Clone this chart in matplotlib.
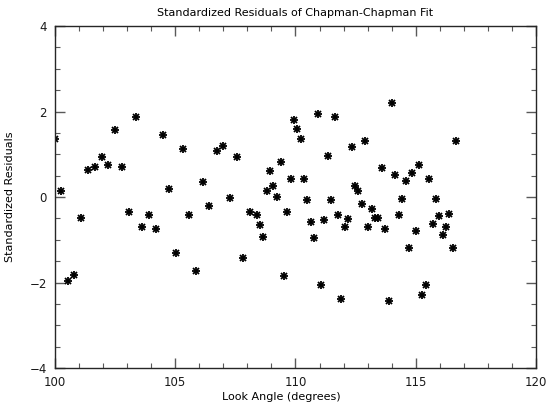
import numpy as np
import matplotlib
matplotlib.use("Agg")
import matplotlib.pyplot as plt
from matplotlib.ticker import MultipleLocator

# look angle (degrees) and standardized residuals
look_angle = [
    100.00, 100.25, 100.53, 100.80, 101.08, 101.39, 101.66, 101.94, 102.22, 102.49,
    102.77, 103.06, 103.35, 103.63, 103.91, 104.19, 104.48, 104.75, 105.02, 105.31,
    105.59, 105.86, 106.15, 106.42, 106.72, 106.97, 107.28, 107.55, 107.83, 108.11,
    108.39, 108.52, 108.66, 108.80, 108.94, 109.08, 109.22, 109.38, 109.52, 109.66,
    109.80, 109.94, 110.08, 110.22, 110.35, 110.49, 110.65, 110.78, 110.92, 111.06,
    111.20, 111.34, 111.48, 111.63, 111.76, 111.90, 112.05, 112.20, 112.34, 112.46,
    112.60, 112.75, 112.89, 113.03, 113.17, 113.31, 113.45, 113.60, 113.73, 113.87,
    114.01, 114.15, 114.30, 114.44, 114.58, 114.72, 114.86, 115.01, 115.15, 115.27,
    115.43, 115.56, 115.71, 115.84, 115.98, 116.12, 116.26, 116.40, 116.55, 116.69,
]
residuals = [
    1.36, 0.14, -1.97, -1.83, -0.48, 0.63, 0.71, 0.94, 0.76, 1.57,
    0.71, -0.36, 1.86, -0.69, -0.42, -0.75, 1.45, 0.18, -1.32, 1.12,
    -0.41, -1.72, 0.34, -0.21, 1.08, 1.19, -0.02, 0.93, -1.43, -0.34,
    -0.41, -0.66, -0.93, 0.15, 0.62, 0.26, 0.01, 0.81, -1.85, -0.36,
    0.43, 1.79, 1.59, 1.36, 0.43, -0.08, -0.59, -0.95, 1.94, -2.06,
    -0.53, 0.96, -0.08, 1.86, -0.41, -2.38, -0.69, -0.51, 1.16, 0.26,
    0.14, -0.17, 1.31, -0.69, -0.29, -0.48, -0.48, 0.69, -0.75, -2.43,
    2.20, 0.51, -0.43, -0.05, 0.37, -1.19, 0.57, -0.80, 0.76, -2.29,
    -2.06, 0.43, -0.64, -0.05, -0.44, -0.90, -0.70, -0.39, -1.19, 1.30,
]

title = "Standardized Residuals of Chapman-Chapman Fit"
xlabel = "Look Angle (degrees)"
ylabel = "Standardized Residuals"

plt.rcParams['font.family'] = ['DejaVu Sans']
plt.rcParams['font.size'] = 8.5

fig = plt.figure(figsize=(5.5, 4.11), dpi=100)
ax = fig.add_axes([0.1, 0.1046, 0.8745, 0.8321])

# IDL-style asterisk: plus overlaid with a cross
ax.plot(look_angle, residuals, linestyle='none', marker='+', markersize=6,
        markeredgewidth=1.3, color='black')
ax.plot(look_angle, residuals, linestyle='none', marker='x', markersize=4.5,
        markeredgewidth=1.3, color='black')

ax.set_xlim(100, 120)
ax.set_ylim(-4, 4)
ax.xaxis.set_major_locator(MultipleLocator(5))
ax.xaxis.set_minor_locator(MultipleLocator(1))
ax.yaxis.set_major_locator(MultipleLocator(2))
ax.yaxis.set_minor_locator(MultipleLocator(0.5))
ax.tick_params(which='both', direction='in', top=True, right=True, color='0.35')
ax.tick_params(which='major', length=7, width=1, pad=6, labelcolor='0.1')
ax.tick_params(which='minor', length=3.5, width=0.8)

for s in ax.spines.values():
    s.set_linewidth(1.0)
    s.set_color('0.15')

ax.set_title(title, fontsize=8, pad=7)
ax.set_xlabel(xlabel, fontsize=8, labelpad=2)
ax.xaxis.set_label_coords(0.47, -0.07)
ax.set_ylabel(ylabel, fontsize=8, labelpad=10)

fig.savefig("out.png", dpi=100)
